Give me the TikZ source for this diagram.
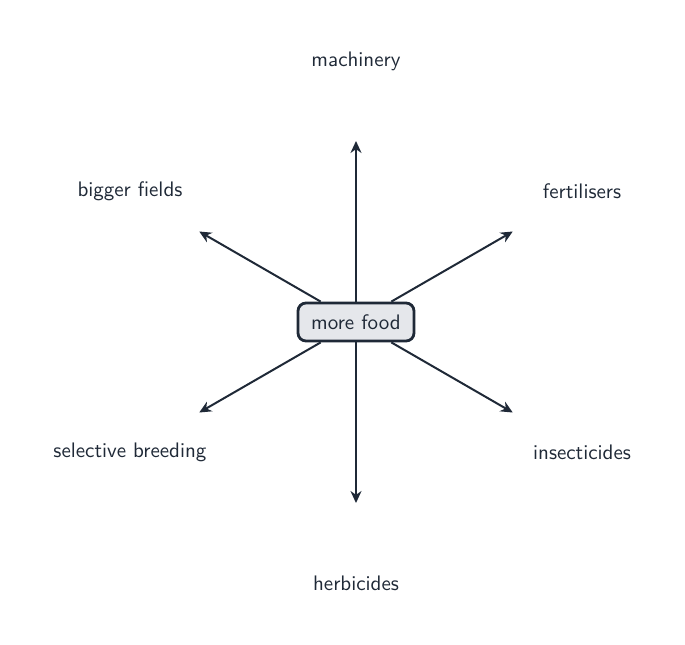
\documentclass[tikz,border=0pt]{standalone}
\usepackage{tikz}
\usetikzlibrary{arrows.meta}
\renewcommand{\familydefault}{\sfdefault}
\definecolor{ink}{HTML}{1F2937}
\definecolor{boxfill}{HTML}{E5E7EB}

\begin{document}
\begin{tikzpicture}[x=0.5pt,y=0.5pt, font=\sffamily\fontsize{10.5}{12}\selectfont, text=ink,
    hub/.style={draw=ink, fill=boxfill, line width=1.4pt, rounded corners=4pt,
      minimum width=58pt, minimum height=19pt, inner sep=0pt},
    spoke/.style={draw=ink, line width=1pt, -{Stealth[length=6pt,width=5.5pt]}}]
    \useasboundingbox (-356,-322) rectangle (329,322);
    \foreach \a/\t [count=\i] in {90/machinery, 30/fertilisers, -30/insecticides,
        -90/herbicides, -150/selective breeding, 150/bigger fields} {
        \coordinate (tip\i) at (\a:181);
        \node (lab\i) at (\a:261) {\t};
    }
    \node[hub] (food) at (0,0) {more food};
    \foreach \i in {1,...,6} {
        \draw[spoke] (food) -- (tip\i);
    }
\end{tikzpicture}
\end{document}
